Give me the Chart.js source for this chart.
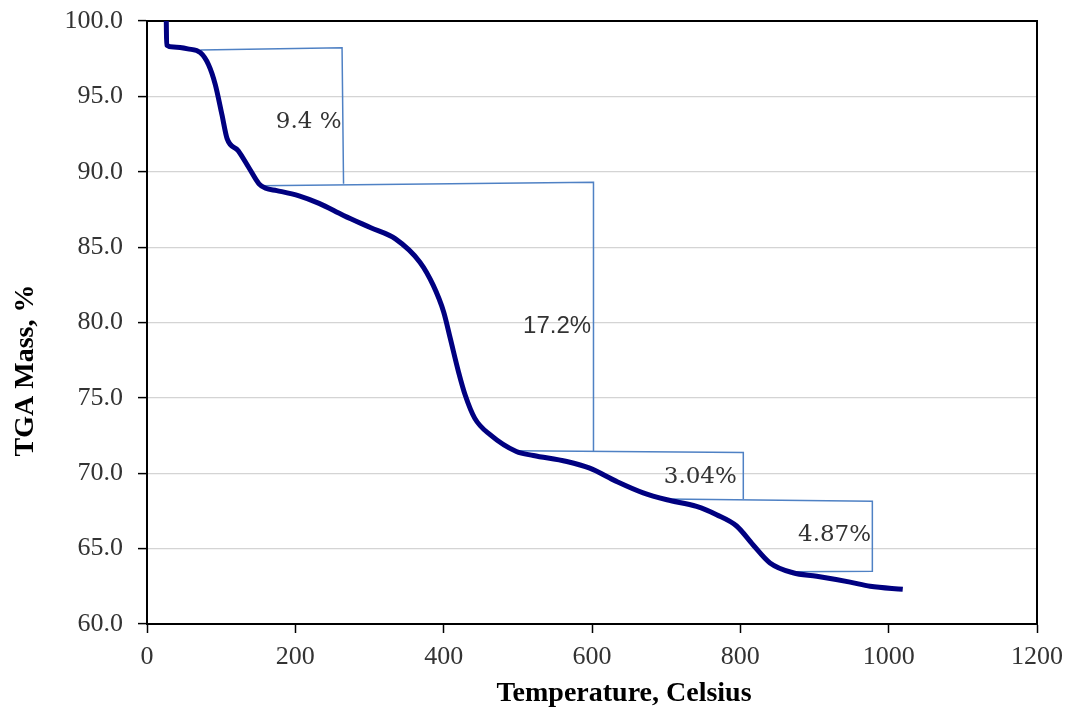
<!doctype html>
<html lang="en">
<head>
  <meta charset="utf-8">
  <title>TGA Mass</title>
  <script src="https://cdn.jsdelivr.net/npm/chart.js"></script>
  <style>
    body { margin: 0; background: #fff; }
    canvas { display: block; }
  </style>
</head>
<body>
  <canvas id="tga" width="1066" height="709"></canvas>

<script>
// TGA curve
var temps = [26, 26.5, 36, 55, 72, 83, 92, 101, 108, 123, 137, 151, 160, 175, 205, 232, 265, 301, 335, 368, 386, 400, 409, 420, 429, 442, 463, 498, 521, 566, 597, 633, 669, 701, 741, 768, 795, 817, 840, 871, 903, 948, 975, 1019];
var mass = [100, 98.4, 98.27, 98.15, 97.9, 97.1, 95.8, 93.8, 92.2, 91.4, 90.3, 89.2, 88.9, 88.75, 88.4, 87.9, 87.1, 86.3, 85.55, 84.0, 82.46, 80.7, 78.93, 76.73, 75.19, 73.64, 72.54, 71.44, 71.18, 70.78, 70.34, 69.46, 68.7, 68.24, 67.8, 67.25, 66.5, 65.26, 64.05, 63.4, 63.17, 62.78, 62.5, 62.3];

// step brackets for each mass loss
var stepAx = [72, 263, 265];
var stepAy = [98.07, 98.23, 89.2];
var stepBx = [152, 602, 602];
var stepBy = [89.07, 89.3, 71.44];
var stepCx = [496, 804, 804];
var stepCy = [71.5, 71.38, 68.29];
var stepDx = [700, 978, 978, 871];
var stepDy = [68.3, 68.14, 63.5, 63.46];

// loss labels
var lossText = ["9.4 %", "17.2%", "3.04%", "4.87%"];
var lossX = [218, 553, 746, 927];
var lossY = [93.32, 79.76, 69.74, 65.87];
var lossSans = [false, true, false, false];

var xTicks = [0, 200, 400, 600, 800, 1000, 1200];

function pts(xs, ys) {
  var out = [];
  for (var i = 0; i < xs.length; i++) {
    out.push({x: xs[i], y: ys[i]});
  }
  return out;
}

function stepSet(xs, ys) {
  return {
    data: pts(xs, ys),
    showLine: true,
    borderColor: "#4f81c4",
    borderWidth: 1.5,
    pointRadius: 0,
    tension: 0
  };
}

// black frame round the plot area
var frame = {
  id: "frame",
  beforeDatasetsDraw: function(chart) {
    var a = chart.chartArea, ctx = chart.ctx;
    ctx.save();
    ctx.strokeStyle = "#000";
    ctx.lineWidth = 2;
    ctx.strokeRect(a.left, a.top, a.right - a.left, a.bottom - a.top);
    ctx.restore();
  }
};

// percentage labels and axis titles
var texts = {
  id: "texts",
  afterDatasetsDraw: function(chart) {
    var ctx = chart.ctx, a = chart.chartArea;
    var sx = chart.scales.x, sy = chart.scales.y;
    ctx.save();
    ctx.fillStyle = "#333";
    ctx.textAlign = "center";
    ctx.textBaseline = "middle";
    for (var i = 0; i < lossText.length; i++) {
      ctx.font = lossSans[i] ? '24px "Liberation Sans"' : '23px "DejaVu Serif"';
      ctx.fillText(lossText[i], sx.getPixelForValue(lossX[i]), sy.getPixelForValue(lossY[i]));
    }

    ctx.fillStyle = "#000";
    ctx.font = 'bold 28px "Liberation Serif"';
    ctx.textBaseline = "alphabetic";
    ctx.fillText("Temperature, Celsius", (a.left + a.right) / 2 + 32, chart.height - 8);

    ctx.translate(33, (a.top + a.bottom) / 2 + 48);
    ctx.rotate(-Math.PI / 2);
    ctx.fillText("TGA Mass, %", 0, 0);
    ctx.restore();
  }
};

var tickFont = {family: '"Liberation Serif", serif', size: 26};

new Chart(document.getElementById("tga"), {
  type: "scatter",
  data: {
    datasets: [
      {
        data: pts(temps, mass),
        showLine: true,
        borderColor: "#000080",
        borderWidth: 5,
        pointRadius: 0,
        cubicInterpolationMode: "monotone"
      },
      stepSet(stepAx, stepAy),
      stepSet(stepBx, stepBy),
      stepSet(stepCx, stepCy),
      stepSet(stepDx, stepDy)
    ]
  },
  options: {
    responsive: false,
    animation: false,
    layout: {padding: {top: 21, right: 29, left: 0, bottom: 0}},
    plugins: {
      legend: {display: false},
      tooltip: {enabled: false}
    },
    scales: {
      x: {
        type: "linear",
        min: 0,
        max: 1200,
        afterBuildTicks: function(scale) {
          scale.ticks = xTicks.map(function(v) { return {value: v}; });
        },
        afterFit: function(scale) {
          scale.height = 85;
          scale.paddingLeft = 0;
          scale.paddingRight = 0;
        },
        grid: {drawOnChartArea: false, drawTicks: true, tickLength: 9, tickColor: "#000", tickWidth: 1.5},
        border: {color: "#000", width: 2},
        ticks: {
          font: tickFont,
          color: "#333",
          padding: 9,
          maxRotation: 0,
          callback: function(v) { return String(v); }
        }
      },
      y: {
        min: 60,
        max: 100,
        afterFit: function(scale) {
          scale.width = 147;
          scale.paddingTop = 0;
          scale.paddingBottom = 0;
        },
        grid: {color: "#d4d4d4", lineWidth: 1.2, tickLength: 9, tickColor: "#000", tickWidth: 1.5},
        border: {color: "#000", width: 2},
        ticks: {
          stepSize: 5,
          font: tickFont,
          color: "#333",
          padding: 15,
          callback: function(v) { return v.toFixed(1); }
        }
      }
    }
  },
  plugins: [frame, texts]
});
</script>
</body>
</html>
